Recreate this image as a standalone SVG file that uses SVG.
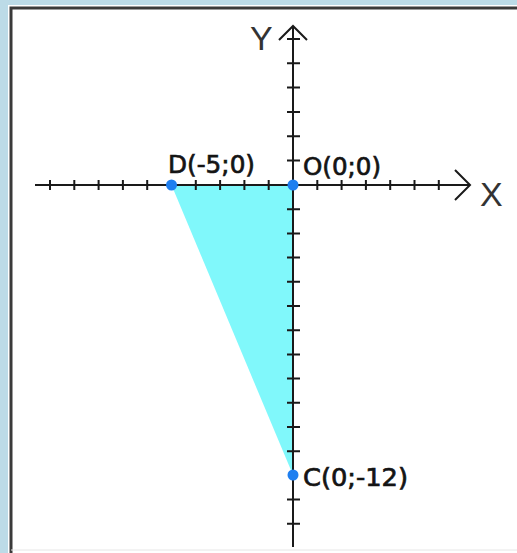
<svg xmlns="http://www.w3.org/2000/svg" width="517" height="553" viewBox="0 0 517 553">
<style>
.axis{stroke:#1a1a1a;stroke-width:2;fill:none}
.tick{stroke:#1a1a1a;stroke-width:2}
.dot{fill:#1f7ff0}
.lbl{font-family:"DejaVu Sans",sans-serif;font-size:25px;fill:#141414;stroke:#141414;stroke-width:0.7}
.ax{font-family:"Liberation Sans",Arial,sans-serif;font-size:34px;fill:#333}
</style>
<rect x="0" y="0" width="517" height="553" fill="#bcdbe7"/>
<rect x="8" y="5" width="520" height="550" fill="#ffffff"/>
<rect x="11" y="8" width="520" height="560" fill="#ffffff" stroke="#3a3a3a" stroke-width="3"/>
<line x1="11" y1="550" x2="517" y2="550" stroke="#e6e6e6" stroke-width="1"/>

<g id="triangle">
<polygon points="171.5,185 293,185 293,475" fill="#80f8fb"/>
</g>

<g id="connectors">
<g id="x-axis">
<line class="axis" x1="35" y1="185" x2="470" y2="185"/>
<polyline class="axis" points="455,170 470,185 455,200"/>
<path class="tick" d="M50,180V190M74.3,180V190M98.6,180V190M122.9,180V190M147.2,180V190M195.8,180V190M220.1,180V190M244.4,180V190M268.7,180V190M317.3,180V190M341.6,180V190M365.9,180V190M390.2,180V190M414.5,180V190M438.8,180V190"/>
</g>
<g id="y-axis">
<line class="axis" x1="293" y1="547" x2="293" y2="26"/>
<polyline class="axis" points="279,40 293,26 307,40"/>
<path class="tick" d="M287,39H300M287,63.3H300M287,87.6H300M287,111.9H300M287,136.2H300M287,160.5H300M287,209.2H300M287,233.4H300M287,257.6H300M287,281.8H300M287,306H300M287,330.2H300M287,354.4H300M287,378.6H300M287,402.8H300M287,427H300M287,451.2H300M287,499.6H300M287,523.8H300"/>
</g>
</g>

<g id="label-x"><text class="ax" x="480" y="206">X</text></g>
<g id="label-y"><text class="ax" x="250" y="50">Y</text></g>

<g id="node-D">
<circle class="dot" cx="171.5" cy="185" r="5.5"/>
<text class="lbl" x="168" y="173" textLength="87" lengthAdjust="spacingAndGlyphs">D(-5;0)</text>
</g>
<g id="node-O">
<circle class="dot" cx="293" cy="185" r="5.5"/>
<text class="lbl" x="303" y="175" textLength="78" lengthAdjust="spacingAndGlyphs">O(0;0)</text>
</g>
<g id="node-C">
<circle class="dot" cx="293" cy="475" r="5.5"/>
<text class="lbl" x="303" y="486" textLength="105" lengthAdjust="spacingAndGlyphs">C(0;-12)</text>
</g>
</svg>
